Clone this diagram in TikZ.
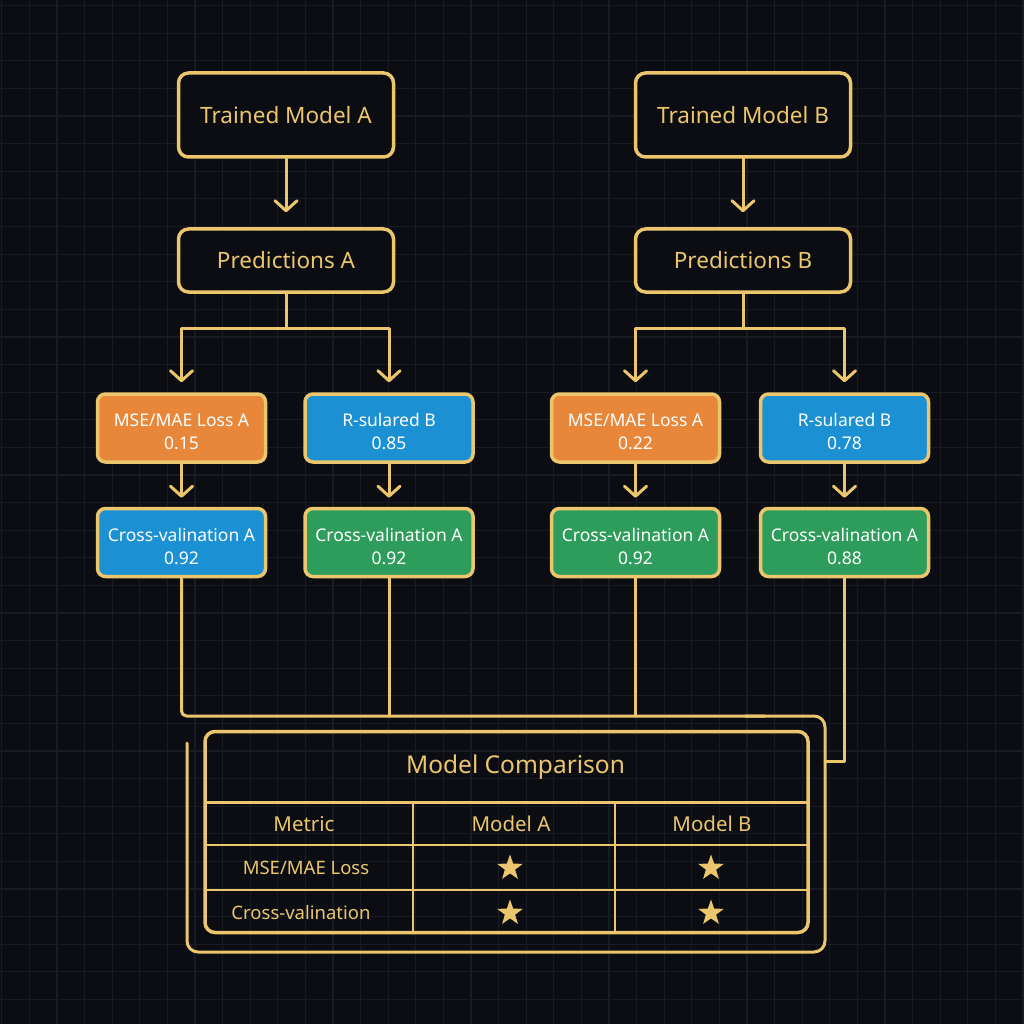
\documentclass[tikz,border=0pt]{standalone}
\usepackage{fontspec}
\setmainfont{Noto Sans}
\usetikzlibrary{arrows.meta,shapes.geometric}
\definecolor{bg}{HTML}{0B0D12}
\definecolor{gridc}{HTML}{171B24}
\definecolor{gold}{HTML}{EBC66C}
\definecolor{orangef}{HTML}{E8873A}
\definecolor{bluef}{HTML}{1B90D3}
\definecolor{greenf}{HTML}{2E9D5C}
\newcommand{\tstrut}{\rule{0pt}{21pt}}
\begin{document}
\begin{tikzpicture}[x=1pt,y=-1pt,
  topbox/.style={draw=gold, line width=3.5pt, rounded corners=10pt, fill=bg,
    minimum width=215pt, text=gold, font=\fontsize{22.5}{26}\selectfont, inner sep=0pt},
  metbox/.style={draw=gold, line width=3.5pt, rounded corners=8pt,
    minimum width=168pt, minimum height=68pt, text=white, align=center,
    font=\fontsize{17.5}{23}\selectfont, inner sep=0pt},
  ofill/.style={fill=orangef}, bfill/.style={fill=bluef}, gfill/.style={fill=greenf},
  conn/.style={draw=gold, line width=3pt, line cap=round, line join=round},
  arr/.style={conn, -{Straight Barb[length=10pt,width=22pt,round]}},
  celltext/.style={text=gold, font=\fontsize{20.5}{24}\selectfont, inner sep=0pt},
  rowtext/.style={text=gold, font=\fontsize{18.5}{22}\selectfont, inner sep=0pt},
  starmark/.style={star, star points=5, star point ratio=2.5, fill=gold, draw=none,
    minimum size=27pt, inner sep=0pt}
]
% background and grid
\fill[bg] (0,0) rectangle (1024,1024);
\useasboundingbox (0,0) rectangle (1024,1024);
\foreach \i in {0,...,37} {
  \draw[gridc, line width=1.2pt] ({1.8+27.6*\i},0) -- ({1.8+27.6*\i},1024);
  \draw[gridc, line width=1.2pt] (0,{5.7+27.6*\i}) -- (1024,{5.7+27.6*\i});
}

% top boxes
\node[topbox, minimum height=84pt] (tA) at (286,115) {Trained Model A};
\node[topbox, minimum height=84pt] (tB) at (743,115) {Trained Model B};
\node[topbox, minimum height=63pt] (pA) at (286,260.5) {Predictions A};
\node[topbox, minimum height=63pt] (pB) at (743,260.5) {Predictions B};

% metric boxes
\node[metbox, ofill] (mA) at (181.5,428) {\tstrut MSE/MAE Loss A\\0.15};
\node[metbox, bfill] (rA) at (389,428) {\tstrut R-sulared B\\0.85};
\node[metbox, ofill] (mB) at (635.5,428) {\tstrut MSE/MAE Loss A\\0.22};
\node[metbox, bfill] (rB) at (844.5,428) {\tstrut R-sulared B\\0.78};
\node[metbox, bfill] (cA1) at (181.5,542.5) {\tstrut Cross-valination A\\0.92};
\node[metbox, gfill] (cA2) at (389,542.5) {\tstrut Cross-valination A\\0.92};
\node[metbox, gfill] (cB1) at (635.5,542.5) {\tstrut Cross-valination A\\0.92};
\node[metbox, gfill] (cB2) at (844.5,542.5) {\tstrut Cross-valination A\\0.88};

% arrows top
\draw[arr, shorten >=15pt] (tA) -- (pA);
\draw[arr, shorten >=15pt] (tB) -- (pB);
\coordinate (bA) at (286,328);
\coordinate (bB) at (743,328);
\draw[conn] (pA) -- (bA);
\draw[conn] (pB) -- (bB);
\draw[arr, shorten >=10pt] (bA) -| (mA);
\draw[arr, shorten >=10pt] (bA) -| (rA);
\draw[arr, shorten >=10pt] (bB) -| (mB);
\draw[arr, shorten >=10pt] (bB) -| (rB);
\draw[arr, shorten >=9pt] (mA) -- (cA1);
\draw[arr, shorten >=9pt] (rA) -- (cA2);
\draw[arr, shorten >=9pt] (mB) -- (cB1);
\draw[arr, shorten >=9pt] (rB) -- (cB2);

% bottom connectors and outer frame
\coordinate (jA1) at (181.5,716);
\coordinate (jA2) at (389,716);
\coordinate (jB1) at (635.5,716);
\coordinate (fTR) at (825,716);
\coordinate (fBR) at (825,952);
\coordinate (fBL) at (187,952);
\coordinate (fTL) at (187,743);
\coordinate (kB) at (844.5,761);
\coordinate (kF) at (825,761);
\draw[conn, rounded corners=5pt] (cA1.south) -- (jA1) -- ([xshift=-60pt]fTR);
\draw[conn, rounded corners=11pt] ([xshift=-80pt]fTR) -- (fTR) -- (fBR) -- (fBL) -- (fTL);
\draw[conn] (cA2.south) -- (jA2);
\draw[conn] (cB1.south) -- (jB1);
\draw[conn] (cB2.south) -- (kB) -- (kF);

% comparison table
\node[draw=gold, line width=3.5pt, rounded corners=10pt, minimum width=603pt,
  minimum height=201pt, inner sep=0pt] (tbl) at (506.5,832) {};
\node[text=gold, font=\fontsize{24.5}{28}\selectfont, inner sep=0pt] (ttl) at (515.5,767) {Model Comparison};
\coordinate (sL) at (205,802);
\coordinate (sR) at (808,802);
\draw[gold, line width=3pt] (sL) -- (sR);
\coordinate (r1L) at (205,845);
\coordinate (r1R) at (808,845);
\coordinate (r2L) at (205,890);
\coordinate (r2R) at (808,890);
\draw[gold, line width=2pt] (r1L) -- (r1R);
\draw[gold, line width=2pt] (r2L) -- (r2R);
\coordinate (c1T) at (413,802);
\coordinate (c1B) at (413,932);
\coordinate (c2T) at (615,802);
\coordinate (c2B) at (615,932);
\draw[gold, line width=2pt] (c1T) -- (c1B);
\draw[gold, line width=2pt] (c2T) -- (c2B);

\node[celltext] (hM) at (304,824) {Metric};
\node[celltext] (hA) at (511,824) {Model A};
\node[celltext] (hB) at (712,824) {Model B};
\node[rowtext] (l1) at (306,868) {MSE/MAE Loss};
\node[rowtext] (l2) at (301,913) {Cross-valination};
\node[starmark] (s1) at (510,868) {};
\node[starmark] (s2) at (711,868) {};
\node[starmark] (s3) at (510,913) {};
\node[starmark] (s4) at (711,913) {};
\end{tikzpicture}
\end{document}
